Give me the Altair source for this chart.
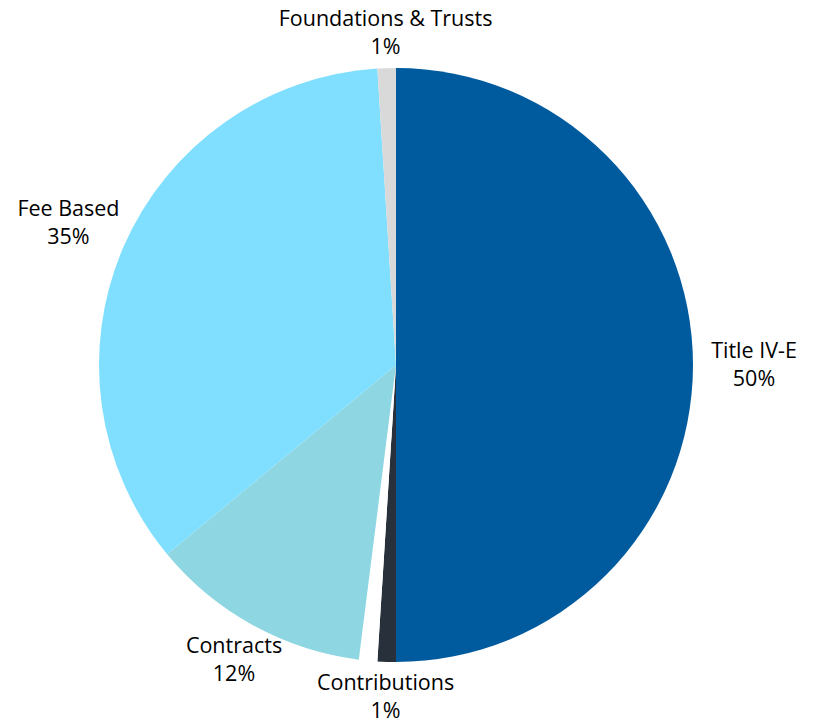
import altair as alt
import pandas as pd

names = ["Title IV-E", "Contributions", "", "Contracts", "Fee Based", "Foundations & Trusts"]
values = [50, 1, 1, 12, 35, 1]
pct_labels = ["50%", "1%", "", "12%", "35%", "1%"]
colors = ["#005a9e", "#28303b", "#ffffff", "#8dd6e2", "#80dfff", "#d9d9d9"]

df = pd.DataFrame({
    "idx": list(range(len(names))),
    "name": names,
    "value": values,
    "pct": pct_labels,
})
df["label"] = [n + "\n" + p if n else "" for n, p in zip(names, pct_labels)]

CX, CY, R = 388, 357, 297

base = alt.Chart(df)

arcs = base.mark_arc(radius=R, stroke=None).encode(
    theta=alt.Theta("value:Q", stack=True),
    order=alt.Order("idx:Q", sort="ascending"),
    x=alt.value(CX),
    y=alt.value(CY),
    color=alt.Color("name:N", scale=alt.Scale(domain=names, range=colors), legend=None),
)

labels = base.transform_joinaggregate(
    total="sum(value)"
).transform_window(
    cum="sum(value)", sort=[alt.SortField("idx", order="ascending")]
).transform_calculate(
    midv="datum.cum - datum.value/2",
    mid="(datum.cum - datum.value/2) / datum.total * 2 * PI",
    hw="length(datum.name) * 5.6",
).transform_calculate(
    lr=f"{R} + 5 + min(datum.hw / max(abs(sin(datum.mid)), 0.000001), 30 / max(abs(cos(datum.mid)), 0.000001))"
).mark_text(
    font="Open Sans", fontSize=21.5, color="#000000", lineBreak="\n", lineHeight=28,
    align="center", baseline="middle", dy=-13,
).encode(
    theta=alt.Theta("midv:Q", stack=None),
    x=alt.value(CX),
    y=alt.value(CY),
    radius=alt.Radius("lr:Q", scale=None),
    text="label:N",
)

chart = alt.layer(arcs, labels).properties(
    width=799, height=716,
    autosize=alt.AutoSizeParams(type="none"),
    padding=0,
).configure_view(stroke=None)

chart.save("out.html", embed_options={"renderer": "svg", "actions": False})
